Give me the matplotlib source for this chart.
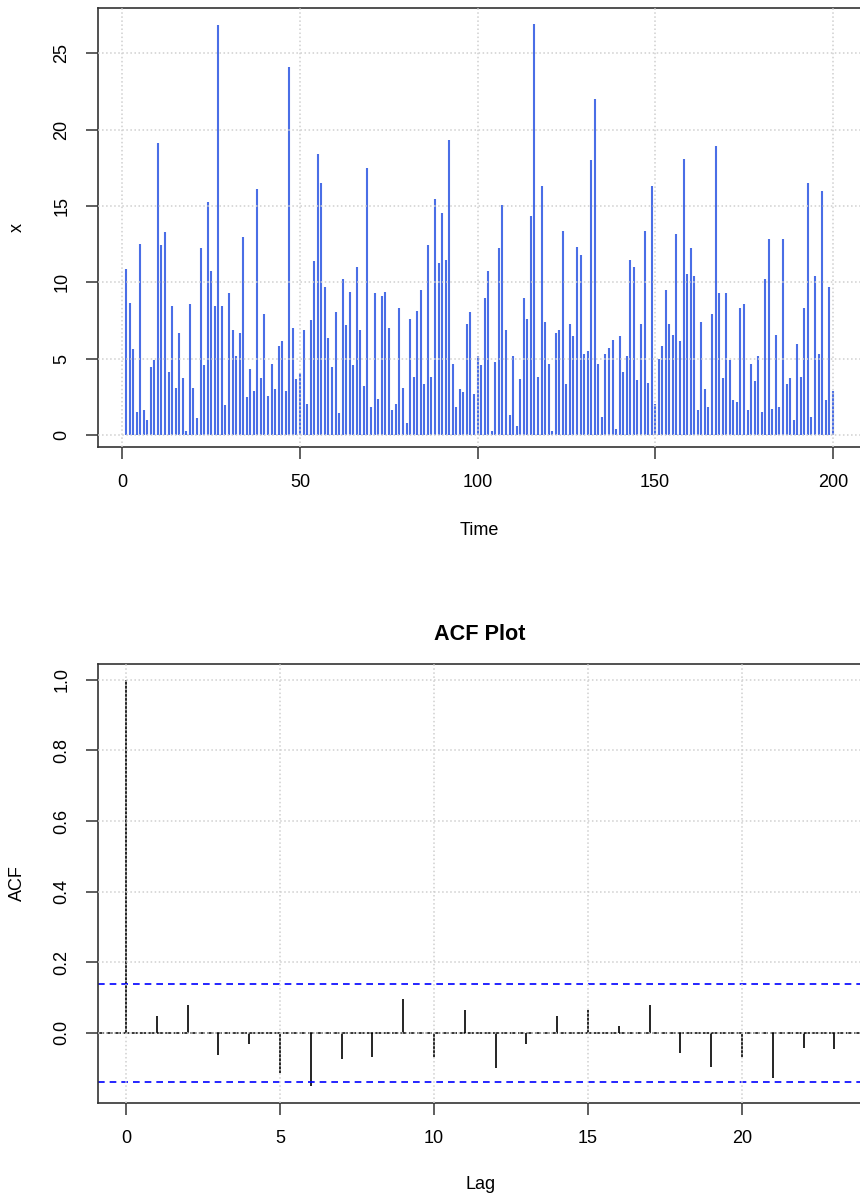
import numpy as np
import matplotlib
matplotlib.use('Agg')
import matplotlib.pyplot as plt

plt.rcParams['font.family'] = ['Liberation Sans', 'DejaVu Sans']

# series values (t = 1..200)
x = [10.85, 8.67, 5.61, 1.51, 12.53, 1.62, 1.0, 4.45, 4.89, 19.15,
     12.42, 13.28, 4.15, 8.45, 3.1, 6.68, 3.71, 0.26, 8.56, 3.1,
     1.09, 12.23, 4.56, 15.28, 10.76, 8.45, 26.83, 8.45, 1.94, 9.28,
     6.88, 5.2, 6.68, 12.95, 2.47, 4.34, 2.88, 16.11, 3.71, 7.93,
     2.58, 4.67, 2.99, 5.83, 6.14, 2.88, 24.08, 6.99, 3.65, 4.04,
     6.88, 2.05, 7.51, 11.38, 18.43, 16.53, 9.72, 6.35, 4.45, 8.03,
     1.42, 10.24, 7.18, 9.39, 4.56, 10.98, 6.88, 3.21, 17.47, 1.83,
     9.28, 2.36, 9.08, 9.39, 6.99, 1.64, 2.05, 8.34, 3.1, 0.79,
     7.62, 3.82, 8.14, 9.5, 3.32, 12.42, 3.82, 15.48, 11.29, 14.54,
     11.48, 19.34, 4.67, 1.83, 2.99, 2.79, 7.29, 8.03, 2.69, 5.2,
     4.56, 8.97, 10.76, 0.26, 4.78, 12.23, 15.07, 6.88, 1.31, 5.2,
     0.57, 3.65, 8.97, 7.62, 14.32, 26.92, 3.82, 16.33, 7.4, 4.67,
     0.26, 6.68, 6.88, 13.38, 3.32, 7.29, 6.46, 12.34, 11.81, 5.31,
     5.5, 17.99, 21.99, 4.67, 1.2, 5.31, 5.72, 6.24, 0.37, 6.46,
     4.15, 5.2, 11.48, 10.98, 3.62, 7.29, 13.38, 3.41, 16.33, 2.05,
     4.98, 5.83, 9.5, 7.29, 6.57, 13.17, 6.14, 18.1, 10.55, 12.23,
     10.44, 1.64, 7.4, 2.99, 1.83, 7.93, 18.95, 9.28, 3.71, 9.28,
     4.89, 2.27, 2.16, 8.34, 8.56, 1.64, 4.67, 3.52, 5.2, 1.53,
     10.24, 12.86, 1.72, 6.57, 1.83, 12.86, 3.32, 3.71, 1.0, 5.94,
     3.82, 8.34, 16.53, 1.2, 10.44, 5.31, 16.0, 2.27, 9.72, 2.88]
time = np.arange(1, len(x) + 1)

# autocorrelation by lag
lags = list(range(24))
acf = [1.0, 0.048, 0.079, -0.064, -0.032, -0.113, -0.150, -0.074, -0.069, 0.097,
       -0.069, 0.066, -0.100, -0.032, 0.048, 0.066, 0.020, 0.079, -0.056, -0.096,
       -0.069, -0.128, -0.042, -0.045]
ci = 1.96 / np.sqrt(len(x))

fig = plt.figure(figsize=(8.6, 12.02), dpi=100)

spine_col = '#333333'
grid_kw = dict(color='#cfcfcf', linestyle=':', linewidth=1.1)


def style(ax):
    for s in ax.spines.values():
        s.set_color(spine_col)
        s.set_linewidth(1.2)
    ax.tick_params(direction='out', length=8.5, width=1.1, color=spine_col,
                   labelsize=13, pad=11)
    ax.tick_params(axis='y', labelrotation=90)
    for lab in ax.get_yticklabels():
        lab.set_va('center')
    ax.set_axisbelow(False)
    ax.grid(True, **grid_kw)


# ---- time series ----
ax1 = fig.add_axes([97.7 / 860, 1 - 446.7 / 1202, 0.8876, 438.4 / 1202])
ax1.vlines(time, 0, x, color='#4a6ee6', linewidth=1.5)
ax1.set_xlim(-6.96, 207.96)
ax1.set_ylim(-0.77, 27.94)
ax1.set_xticks([0, 50, 100, 150, 200])
ax1.set_yticks([0, 5, 10, 15, 20, 25])
style(ax1)
ax1.set_xlabel('Time', fontsize=13)
ax1.xaxis.set_label_coords(0.5, -0.172)
ax1.set_ylabel('x', fontsize=13)
ax1.yaxis.set_label_coords(-0.094, 0.5)

# ---- ACF ----
ax2 = fig.add_axes([97.7 / 860, 1 - 1102.7 / 1202, 0.8895, 438.7 / 1202])
ax2.vlines(lags, 0, acf, color='black', linewidth=1.2)
ax2.axhline(0, color='black', linewidth=1.1, linestyle=(0, (4, 1.5)))
ax2.axhline(ci, color='blue', linewidth=1.2, linestyle=(0, (4, 3)))
ax2.axhline(-ci, color='blue', linewidth=1.2, linestyle=(0, (4, 3)))
ax2.set_xlim(-0.92, 23.92)
ax2.set_ylim(-0.198, 1.045)
ax2.set_xticks([0, 5, 10, 15, 20])
ax2.set_yticks([0.0, 0.2, 0.4, 0.6, 0.8, 1.0])
ax2.set_yticklabels(['0.0', '0.2', '0.4', '0.6', '0.8', '1.0'])
style(ax2)
ax2.set_title('ACF Plot', fontsize=15.6, fontweight='bold', pad=17)
ax2.set_xlabel('Lag', fontsize=13)
ax2.xaxis.set_label_coords(0.5, -0.168)
ax2.set_ylabel('ACF', fontsize=13)
ax2.yaxis.set_label_coords(-0.094, 0.5)

fig.savefig('out.png', dpi=100)
